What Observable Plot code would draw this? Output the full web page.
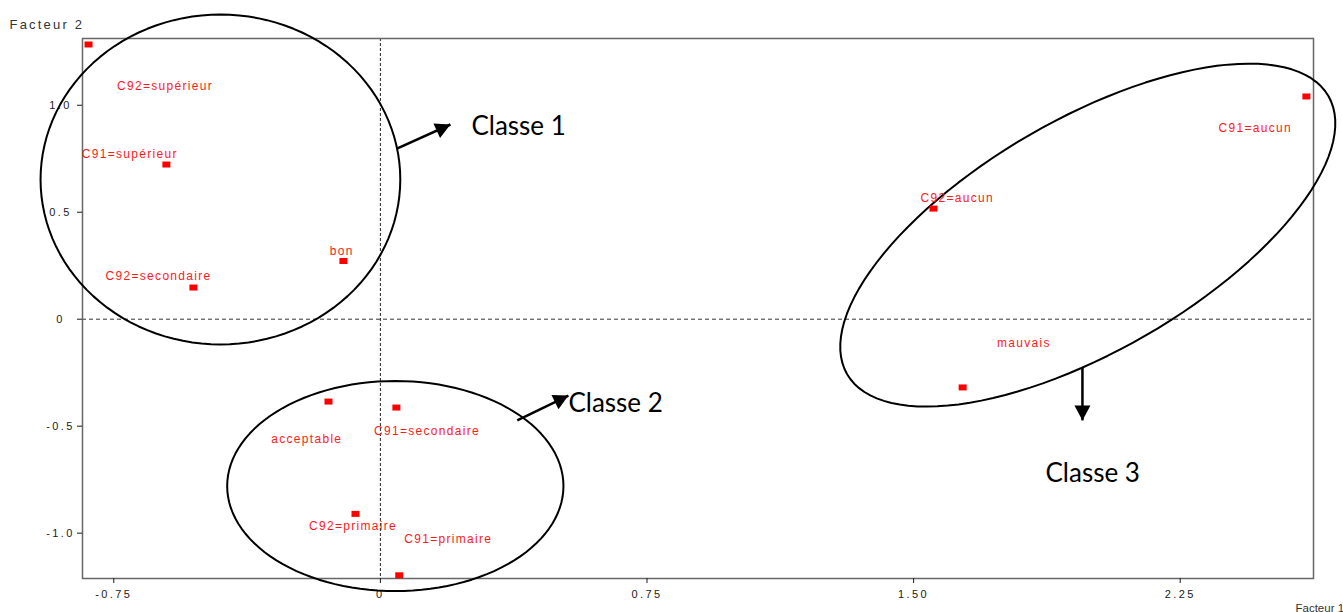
<!DOCTYPE html>
<html><head><meta charset="utf-8">
<script src="https://cdn.jsdelivr.net/npm/d3@7"></script>
<script src="https://cdn.jsdelivr.net/npm/@observablehq/plot@0.6"></script>
<style>
html,body{margin:0;padding:0;background:#fff;overflow:hidden}
#chart svg{display:block}
g[font-size="12"] text{letter-spacing:1.3px}
g[aria-label$="tick label"] text{letter-spacing:2.4px}
g[font-size="13"] text{letter-spacing:2.2px}
</style></head><body><div id="chart"></div>
<script>
// Modalities and their coordinates on factors 1 and 2
const categories = ["C92=supérieur","C91=supérieur","bon","C92=secondaire","acceptable","C91=secondaire","C92=primaire","C91=primaire","C92=aucun","C91=aucun","mauvais"];
const factor1 = [-0.821,-0.602,-0.104,-0.526,-0.146,0.045,-0.070,0.053,1.556,2.605,1.638];
const factor2 = [1.284,0.723,0.272,0.148,-0.385,-0.413,-0.910,-1.197,0.517,1.041,-0.319];
// label anchor positions (data units)
const labelX = [-0.606,-0.705,-0.109,-0.624,-0.207,0.131,-0.077,0.191,1.623,2.461,1.810];
const labelY = [1.071,0.752,0.302,0.181,-0.577,-0.542,-0.983,-1.045,0.547,0.877,-0.131];

const xTicks = [-0.75,0,0.75,1.5,2.25];
const xTickLabels = ["-0.75","0","0.75","1.50","2.25"];
const yTicks = [-1,-0.5,0,0.5,1];
const yTickLabels = ["-1.0","-0.5","0","0.5","1.0"];

// class annotations
const classNames = ["Classe 1","Classe 2","Classe 3"];
const classLabelX = [0.256,0.529,1.871];
const classLabelY = [0.863,-0.436,-0.761];
const ellipseCX = [-0.450,0.042,1.990];
const ellipseCY = [0.653,-0.780,0.393];
const ellipseUX = [0.506,0.473,0.677];
const ellipseUY = [0,0,0.650];
const ellipseVX = [0,0,-0.163];
const ellipseVY = [0.771,0.491,0.469];
const arrowX1 = [0.048,0.385,1.975];
const arrowY1 = [0.798,-0.473,-0.226];
const arrowX2 = [0.197,0.529,1.975];
const arrowY2 = [0.910,-0.357,-0.473];
const arrowAngle = [65.6,63.9,180];

const points = categories.map((c,i)=>({name:c,x:factor1[i],y:factor2[i],lx:labelX[i],ly:labelY[i]}));
const ellipsePts = [];
classNames.forEach((c,k)=>{
  for (let a=0;a<360;a+=3){
    const t=a*Math.PI/180;
    ellipsePts.push({k:c,
      x:ellipseCX[k]+ellipseUX[k]*Math.cos(t)+ellipseVX[k]*Math.sin(t),
      y:ellipseCY[k]+ellipseUY[k]*Math.cos(t)+ellipseVY[k]*Math.sin(t)});
  }
});
const arrows = classNames.map((c,i)=>({x1:arrowX1[i],y1:arrowY1[i],x2:arrowX2[i],y2:arrowY2[i],a:arrowAngle[i]}));
const classes = classNames.map((c,i)=>({t:c,x:classLabelX[i],y:classLabelY[i]}));

const rectSymbol = {draw(ctx){ctx.moveTo(-4,-3);ctx.lineTo(4,-3);ctx.lineTo(4,3);ctx.lineTo(-4,3);ctx.closePath();}};
const headSymbol = {draw(ctx){ctx.moveTo(0,0);ctx.lineTo(-8,15);ctx.lineTo(8,15);ctx.closePath();}};

const chart = Plot.plot({
  width:1343, height:612,
  marginLeft:82, marginTop:38, marginRight:30, marginBottom:34,
  style:{fontFamily:"'Liberation Sans', Arial, sans-serif", fontSize:"11px", color:"#1a1a1a", background:"#fff", overflow:"visible"},
  x:{domain:[-0.838,2.625], label:null},
  y:{domain:[-1.212,1.312], label:null},
  marks:[
    Plot.ruleX([0],{stroke:"#222",strokeDasharray:"3,2",strokeWidth:1}),
    Plot.ruleY([0],{stroke:"#333",strokeDasharray:"4,3",strokeWidth:1}),
    Plot.frame({stroke:"#666",strokeWidth:1.5}),
    Plot.axisX({ticks:xTicks,tickFormat:(d)=>xTickLabels[xTicks.indexOf(d)],tickSize:5,tickPadding:7,label:null,fontSize:11}),
    Plot.axisY({ticks:yTicks,tickFormat:(d)=>yTickLabels[yTicks.indexOf(d)],tickSize:5,tickPadding:17,textAnchor:"middle",label:null,fontSize:11}),
    Plot.line(ellipsePts,{x:"x",y:"y",z:"k",curve:"linear-closed",stroke:"black",strokeWidth:2}),
    Plot.dot(points,{x:"x",y:"y",symbol:rectSymbol,fill:"#ff0000",stroke:"none"}),
    Plot.text(points,{x:"lx",y:"ly",text:"name",fill:"#ff1a1a",fontSize:12,textAnchor:"middle",lineAnchor:"bottom"}),
    Plot.link(arrows,{x1:"x1",y1:"y1",x2:"x2",y2:"y2",stroke:"black",strokeWidth:2.5}),
    Plot.dot(arrows,{x:"x2",y:"y2",symbol:headSymbol,rotate:"a",fill:"black",stroke:"none"}),
    Plot.text(classes,{x:"x",y:"y",text:"t",fontFamily:"Lato",fontSize:26,fill:"black",textAnchor:"start",lineAnchor:"bottom"}),
    Plot.text(["Facteur 2"],{frameAnchor:"top-left",text:d=>d,dx:-73,dy:-10,textAnchor:"start",lineAnchor:"bottom",fontSize:13,fill:"#333"}),
    Plot.text(["Facteur 1"],{frameAnchor:"bottom-right",text:d=>d,dx:-18,dy:33,textAnchor:"start",lineAnchor:"bottom",fontSize:11.5,fill:"#333"})
  ]
});
document.getElementById("chart").appendChild(chart);
</script></body></html>
